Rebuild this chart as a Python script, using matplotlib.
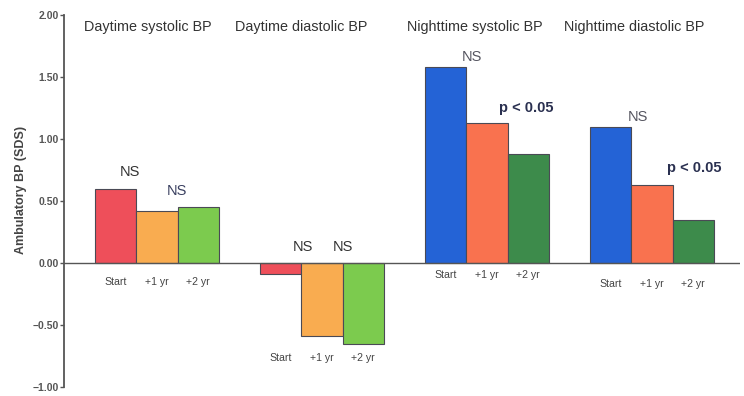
import matplotlib
matplotlib.use("Agg")
import matplotlib.pyplot as plt
import numpy as np

plt.rcParams['font.family'] = ['Liberation Sans', 'DejaVu Sans']

# ---- data ----
panels = ["Daytime systolic BP", "Daytime diastolic BP",
          "Nighttime systolic BP", "Nighttime diastolic BP"]
timepoints = ["Start", "+1 yr", "+2 yr"]
start_vals = [0.60, -0.09, 1.58, 1.10]
yr1_vals = [0.42, -0.59, 1.13, 0.63]
yr2_vals = [0.45, -0.65, 0.88, 0.35]
yticks = [-1.0, -0.5, 0.0, 0.5, 1.0, 1.5, 2.0]
ylabel = "Ambulatory BP (SDS)"

# annotation texts per panel: (label, x offset, y)
annotations = [
    [("NS", -0.164, 0.73, False, "#333333"), ("NS", 0.121, 0.58, False, "#3a4060")],
    [("NS", -0.115, 0.13, False, "#333333"), ("NS", 0.127, 0.13, False, "#333333")],
    [("NS", -0.091, 1.66, False, "#555560"), ("p < 0.05", 0.236, 1.25, True, "#2a3050")],
    [("NS", -0.085, 1.18, False, "#555560"), ("p < 0.05", 0.255, 0.77, True, "#2a3050")],
]
title_x = [-0.055, -0.127, -0.073, -0.11]
label_y = [-0.153, -0.766, -0.097, -0.169]

colors = [
    ["#EE4F5A", "#F9AC50", "#7CCB4E"],
    ["#EE4F5A", "#F9AC50", "#7CCB4E"],
    ["#2463D6", "#F9724F", "#3D8B4B"],
    ["#2463D6", "#F9724F", "#3D8B4B"],
]

fig = plt.figure(figsize=(7.44, 3.96), dpi=100)
ax = fig.add_axes([64/744, 9/396, (740-64)/744, (387-15)/396])

groups = np.arange(len(panels))
w = 0.25
series = [start_vals, yr1_vals, yr2_vals]
for j, vals in enumerate(series):
    for g in groups:
        ax.bar(g + (j-1)*w, vals[g], width=w, color=colors[g][j],
               edgecolor="#4a4a55", linewidth=0.8, zorder=3)
        ax.text(g + (j-1)*w, label_y[g], timepoints[j], ha='center', va='center',
                fontsize=7.6, color="#444444")

for g in groups:
    ax.text(g + title_x[g], 1.90, panels[g], ha='center', va='center',
            fontsize=10.4, color="#333333")
    for (txt, dx, y, bold, c) in annotations[g]:
        ax.text(g + dx, y, txt, ha='center', va='center', fontsize=10.5,
                fontweight='bold' if bold else 'normal', color=c)

ax.axhline(0, color="#555555", linewidth=1.0, zorder=4)

ax.set_xlim(-0.564, 3.533)
ax.set_ylim(-1.0, 2.0)
ax.set_yticks(yticks)
ax.set_yticklabels([f"{v:.2f}".replace("-", "\u2212") for v in yticks],
                   fontsize=7.5, fontweight='bold', color="#555555")
ax.set_xticks([])
for s in ["top", "right", "bottom"]:
    ax.spines[s].set_visible(False)
ax.spines["left"].set_color("#555555")
ax.spines["left"].set_linewidth(1.3)
ax.tick_params(axis='y', direction='out', length=3, width=1, color="#555555", pad=1)
ax.set_ylabel(ylabel, fontsize=9, fontweight='bold', color="#444444", labelpad=4)
ax.yaxis.set_label_coords(-0.055, 0.53)

fig.savefig("out.png", dpi=100)
